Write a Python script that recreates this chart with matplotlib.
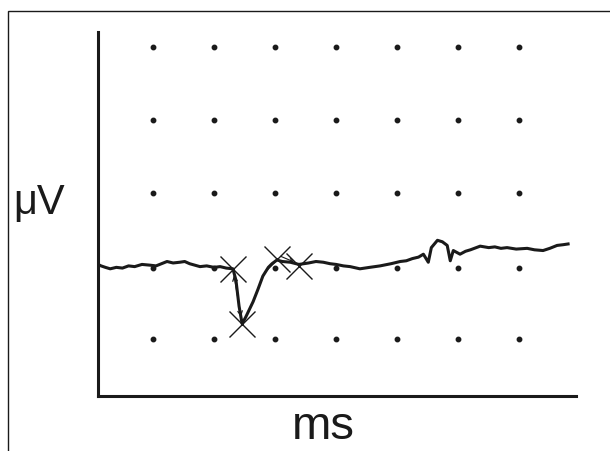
import matplotlib
matplotlib.use("Agg")
from matplotlib import pyplot as plt
from matplotlib.patches import Rectangle

plt.rcParams['font.family'] = ['Liberation Sans', 'DejaVu Sans']

# trace (ms, uV)
t_ms = [1.0, 1.5, 2.2, 3.0, 4.0, 5.0, 6.0, 7.0, 8.2, 9.5, 10.5, 11.4, 12.3, 13.3, 14.4,
        15.2, 16.0, 17.7, 18.8, 20.0, 21.0, 22.0, 23.1,
        23.6, 24.1, 24.6, 25.2, 26.4, 27.2, 28.0, 28.9, 29.5, 30.3, 31.2, 32.5, 33.9,
        35.5, 36.7, 37.9, 39.0, 40.0, 41.2, 42.3, 43.9, 45.5, 47.2, 49.0, 50.5, 51.5,
        52.5, 53.5, 54.3, 55.1, 55.6, 56.6, 57.4, 58.2, 58.7, 59.2, 60.3, 61.2, 62.0,
        63.6, 65.0, 66.0, 67.0, 68.0, 69.5, 71.3, 72.5, 73.9, 75.0, 76.2, 77.2, 78.0]
v_uv = [1.02, 1.0, 0.98, 0.96, 0.98, 0.97, 1.0, 0.99, 1.02, 1.01, 1.0, 1.03, 1.06, 1.04,
        1.05, 1.06, 1.03, 0.99, 1.0, 0.98, 0.99, 0.97, 0.96,
        0.8, 0.45, 0.21, 0.3, 0.51, 0.68, 0.86, 0.98, 1.03, 1.08, 1.06, 1.05, 1.02,
        1.04, 1.06, 1.05, 1.03, 1.02, 1.0, 0.99, 0.96, 0.98, 1.0, 1.03, 1.06, 1.07,
        1.10, 1.12, 1.16, 1.05, 1.25, 1.35, 1.33, 1.28, 1.07, 1.21, 1.16, 1.2, 1.22,
        1.27, 1.25, 1.26, 1.24, 1.25, 1.23, 1.24, 1.22, 1.21, 1.24, 1.28, 1.29, 1.30]

# cursor marks
mark_ms = [23.1, 24.6, 30.3, 33.9]
mark_uv = [0.96, 0.205, 1.096, 1.0]

# dot grid
grid_ms = [10, 20, 30, 40, 50, 60, 70]
grid_uv = [0, 0.97, 2, 3, 4]

fig = plt.figure(figsize=(6.1, 4.52), dpi=100)
ax = fig.add_axes([0.1607, 0.1217, 0.7836, 0.8053])

for gy in grid_uv:
    ax.plot(grid_ms, [gy] * len(grid_ms), ls='none', marker='o', ms=3.2, color='#1a1a1a')

ax.plot(t_ms, v_uv, color='#1a1a1a', lw=2.2, solid_joinstyle='round')
ax.plot(mark_ms, mark_uv, ls='none', marker='x', ms=19, mew=1.0, color='#1a1a1a')

ax.annotate('', xy=(mark_ms[1] - 0.1, mark_uv[1] + 0.06), xytext=(mark_ms[0] + 0.1, mark_uv[0] - 0.05),
            arrowprops=dict(arrowstyle='<->', lw=0.9, color='#1a1a1a', mutation_scale=8))
ax.annotate('', xy=(mark_ms[3] - 0.4, mark_uv[3] + 0.04), xytext=(mark_ms[2] + 0.2, mark_uv[2] + 0.05),
            arrowprops=dict(arrowstyle='->', lw=0.8, color='#1a1a1a', mutation_scale=6))

ax.set_xlim(1.0, 79.3)
ax.set_ylim(-0.78, 4.2)
for s in ['top', 'right']:
    ax.spines[s].set_visible(False)
for s in ['left', 'bottom']:
    ax.spines[s].set_linewidth(2.2)
    ax.spines[s].set_color('#1a1a1a')
ax.set_xticks([])
ax.set_yticks([])

fig.text(0.022, 0.55, 'μV', fontsize=30, va='center', ha='left', color='#1a1a1a')
fig.text(0.53, 0.055, 'ms', fontsize=34, va='center', ha='center', color='#1a1a1a')

fig.add_artist(Rectangle((0.0131, -0.2), 1.2, 1.1735, transform=fig.transFigure,
                         fill=False, lw=1.0, edgecolor='#1a1a1a'))

fig.savefig('out.png', dpi=100)
